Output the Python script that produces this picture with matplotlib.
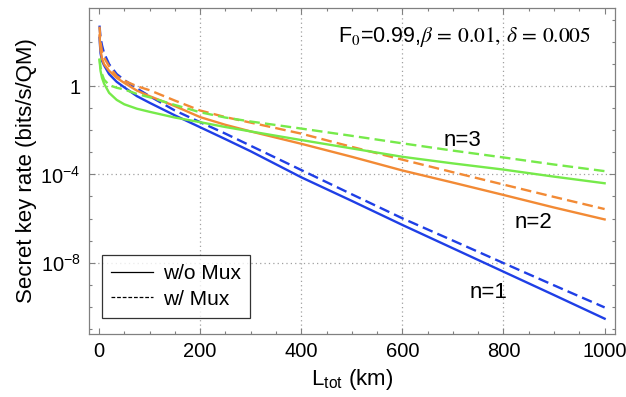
import matplotlib
matplotlib.use("Agg")
import matplotlib.pyplot as plt
import numpy as np
from matplotlib.lines import Line2D
from matplotlib.ticker import FixedLocator, FixedFormatter

plt.rcParams['font.family'] = ['Liberation Sans', 'DejaVu Sans']
plt.rcParams['mathtext.fontset'] = 'stix'

# distance L_tot (km)
L = [1, 3, 6, 10, 20, 35, 50, 75, 100, 150, 200, 250, 300, 400, 500, 600, 700, 800, 900, 1000]

# log10 of secret key rate
n1_nomux = [2.2, 1.5, 1.15, 0.95, 0.55, 0.2, -0.05, -0.45, -0.75, -1.32, -1.86, -2.4, -2.95,
            -4.13, -5.2, -6.29, -7.35, -8.41, -9.47, -10.54]
n1_mux = [2.75, 2.2, 1.85, 1.5, 1.0, 0.55, 0.28, -0.1, -0.45, -1.1, -1.63, -2.15, -2.7,
          -3.8, -4.9, -5.99, -7.0, -8.02, -9.03, -10.03]
n2_nomux = [2.3, 1.65, 1.25, 1.0, 0.7, 0.38, 0.15, -0.2, -0.45, -0.9, -1.4, -1.75, -2.05,
            -2.61, -3.2, -3.82, -4.37, -4.93, -5.5, -6.04]
n2_mux = [2.7, 2.0, 1.55, 1.3, 0.9, 0.45, 0.25, 0.0, -0.18, -0.65, -1.1, -1.4, -1.65,
          -2.15, -2.75, -3.33, -3.9, -4.46, -5.02, -5.57]
n3_nomux = [1.2, 0.7, 0.38, 0.12, -0.3, -0.62, -0.82, -1.02, -1.16, -1.42, -1.63, -1.85, -2.05,
            -2.44, -2.82, -3.2, -3.5, -3.78, -4.1, -4.4]
n3_mux = [1.25, 0.85, 0.55, 0.3, 0.05, -0.07, -0.15, -0.35, -0.5, -0.85, -1.18, -1.42, -1.6,
          -1.92, -2.25, -2.59, -2.92, -3.23, -3.55, -3.85]

series = [
    (n1_nomux, '#1f3fe6', '-'), (n1_mux, '#1f3fe6', '--'),
    (n2_nomux, '#f28a35', '-'), (n2_mux, '#f28a35', '--'),
    (n3_nomux, '#76ea4a', '-'), (n3_mux, '#76ea4a', '--'),
]

fig = plt.figure(figsize=(6.26, 3.97), dpi=100)
ax = fig.add_axes([0.142, 0.159, 0.840, 0.821])

for vals, col, ls in series:
    y = 10.0 ** np.array(vals)
    if ls == '--':
        ax.plot(L, y, color=col, lw=1.7, ls=(0, (4.5, 2.2)))
    else:
        ax.plot(L, y, color=col, lw=1.7, ls='-')

ax.set_yscale('log')
ax.set_xlim(-20, 1020)
ax.set_ylim(10 ** -11.23, 10 ** 3.55)

ax.xaxis.set_major_locator(FixedLocator([0, 200, 400, 600, 800, 1000]))
ax.xaxis.set_minor_locator(FixedLocator(np.arange(0, 1001, 50)))
ax.yaxis.set_major_locator(FixedLocator([1e0, 1e-4, 1e-8]))
ax.yaxis.set_major_formatter(FixedFormatter(['1', r'$\mathregular{10^{-4}}$', r'$\mathregular{10^{-8}}$']))
ax.yaxis.set_minor_locator(FixedLocator([10.0 ** k for k in range(-11, 4)]))
ax.yaxis.set_minor_formatter(FixedFormatter([''] * 15))

ax.tick_params(which='both', direction='in', top=True, right=True, color='#808080',
               labelsize=14.5, labelcolor='black')
ax.tick_params(which='major', length=4.5, width=0.8, pad=6)
ax.tick_params(which='minor', length=2.5, width=0.8)
for s in ax.spines.values():
    s.set_color('#808080')
    s.set_linewidth(0.9)

for gx in [200, 400, 600, 800]:
    ax.axvline(gx, color='#a0a0a0', lw=0.9, ls=(0, (1, 2.5)), zorder=0)
for gy in [1e0, 1e-4, 1e-8]:
    ax.axhline(gy, color='#a0a0a0', lw=0.9, ls=(0, (1, 2.5)), zorder=0)

ax.set_xlabel(r'L$_{\mathregular{tot}}$ (km)', fontsize=16, labelpad=4)
ax.set_ylabel('Secret key rate (bits/s/QM)', fontsize=16, labelpad=2)

ax.text(0.473, 0.91, r'F$_0$=0.99,$\beta\,=\,0.01,\,\delta\,=\,0.005$', transform=ax.transAxes,
        fontsize=15.5, ha='left', va='center')

ax.text(718, 10 ** -2.45, 'n=3', fontsize=16, ha='center', va='center')
ax.text(860, 10 ** -6.2, 'n=2', fontsize=16, ha='center', va='center')
ax.text(770, 10 ** -9.35, 'n=1', fontsize=16, ha='center', va='center')

handles = [Line2D([0], [0], color='black', lw=0.9, ls='-'),
           Line2D([0], [0], color='black', lw=0.9, ls=(0, (3, 1.5)))]
leg = ax.legend(handles, ['w/o Mux', 'w/ Mux'], loc='lower left', bbox_to_anchor=(0.024, 0.049),
                fontsize=15, frameon=True, fancybox=False, handlelength=2.0,
                borderpad=0.45, labelspacing=0.3, handletextpad=0.5, borderaxespad=0.0)
leg.get_frame().set_edgecolor('black')
leg.get_frame().set_linewidth(0.9)

fig.savefig('out.png', dpi=100)
